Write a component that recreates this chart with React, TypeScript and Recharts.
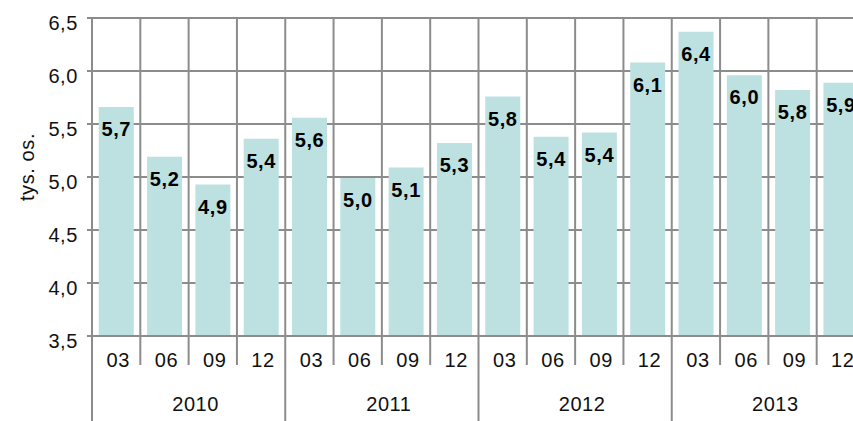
import React from 'react';
import { BarChart, Bar, XAxis, YAxis, CartesianGrid, LabelList } from 'recharts';

const years = ['2010', '2011', '2012', '2013'];
const months = ['03', '06', '09', '12'];
const values = [5.66, 5.19, 4.93, 5.36, 5.56, 4.99, 5.09, 5.32, 5.76, 5.38, 5.42, 6.08, 6.37, 5.96, 5.82, 5.89];
const yTicks = [3.5, 4.0, 4.5, 5.0, 5.5, 6.0, 6.5];

const data = values.map((v, i) => ({
  month: months[i % months.length],
  year: years[Math.floor(i / months.length)],
  value: v,
}));

const CHART_W = 865;
const CHART_H = 421;
const MARGIN_TOP = 18;
const Y_AXIS_W = 92;
const X_AXIS_H = 85;
const PLOT_H = CHART_H - MARGIN_TOP - X_AXIS_H;
const PLOT_W = CHART_W - Y_AXIS_W;
const GRID = '#8c8c8c';
const FONT = '"Liberation Sans", Arial, sans-serif';
const FS = 20;
const LS = 0.6;

const fmt = (v: number) => v.toFixed(1).replace('.', ',');

const MonthTick = (props: any) => {
  const { x, y, payload, index } = props;
  const i = payload?.index ?? index;
  const half = payload?.offset ?? PLOT_W / data.length / 2;
  const left = x - half;
  const isYearStart = i % months.length === 0;
  const showYear = i % months.length === 1;
  return (
    <g>
      <line
        x1={left}
        x2={left}
        y1={y - PLOT_H}
        y2={isYearStart ? y + X_AXIS_H : y + 29}
        stroke={GRID}
        strokeWidth={2}
      />
      <text x={x + 2} y={y + 31} textAnchor="middle" fontSize={FS} letterSpacing={LS} fill="#111" fontFamily={FONT}>
        {payload.value}
      </text>
      {showYear && (
        <text x={x + half + 7} y={y + 75} textAnchor="middle" fontSize={FS} letterSpacing={LS} fill="#111" fontFamily={FONT}>
          {data[i].year}
        </text>
      )}
    </g>
  );
};

const YTick = (props: any) => {
  const { x, y, payload } = props;
  return (
    <text x={x} y={y + 5} dy="0.355em" textAnchor="end" fontSize={FS} letterSpacing={LS} fill="#111" fontFamily={FONT}>
      {fmt(payload.value)}
    </text>
  );
};

const YLabel = (props: any) => {
  const vb = props.viewBox || { x: 0, y: MARGIN_TOP, height: PLOT_H };
  const cx = vb.x + 27;
  const cy = vb.y + vb.height / 2 - 10;
  return (
    <text
      x={cx}
      y={cy}
      textAnchor="middle"
      dominantBaseline="central"
      transform={`rotate(-90, ${cx}, ${cy})`}
      fontSize={FS}
      letterSpacing={LS}
      fill="#111"
      fontFamily={FONT}
    >
      tys. os.
    </text>
  );
};

export default function App() {
  return (
    <div style={{ position: 'absolute', left: 0, top: 0, width: 853, height: 421, overflow: 'hidden', background: '#fff' }}>
      <BarChart
        width={CHART_W}
        height={CHART_H}
        data={data}
        margin={{ top: MARGIN_TOP, right: 0, bottom: 0, left: 0 }}
        barCategoryGap="14%"
      >
        <CartesianGrid vertical={false} stroke={GRID} strokeWidth={2} />
        <YAxis
          width={Y_AXIS_W}
          domain={[3.5, 6.5]}
          ticks={yTicks}
          interval={0}
          tick={<YTick />}
          tickSize={5}
          tickMargin={9}
          tickLine={{ stroke: GRID, strokeWidth: 2 }}
          axisLine={{ stroke: GRID, strokeWidth: 2 }}
          label={YLabel}
        />
        <XAxis
          dataKey="month"
          height={X_AXIS_H}
          interval={0}
          tick={<MonthTick />}
          tickSize={0}
          tickMargin={0}
          tickLine={false}
          axisLine={{ stroke: GRID, strokeWidth: 2 }}
        />
        <Bar dataKey="value" fill="#bde0e1" isAnimationActive={false}>
          <LabelList
            dataKey="value"
            position="insideTop"
            offset={15}
            formatter={(v: any) => fmt(Number(v))}
            fill="#000"
            fontSize={FS}
            fontWeight="bold"
            letterSpacing={LS}
            fontFamily={FONT}
          />
        </Bar>
      </BarChart>
    </div>
  );
}
